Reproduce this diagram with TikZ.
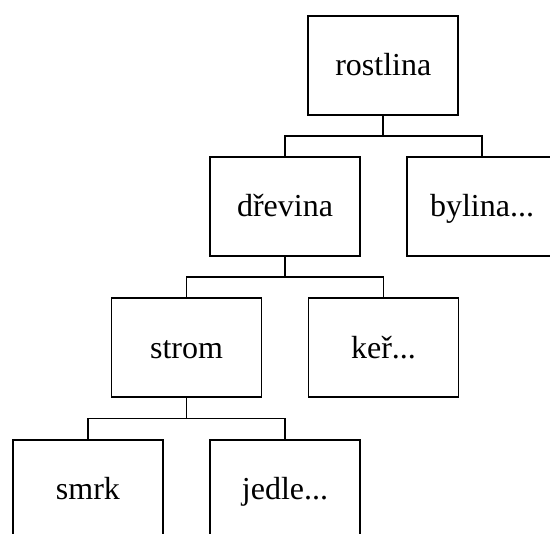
\documentclass[tikz,border=0pt]{standalone}
\usepackage{fontspec}
\setmainfont{Liberation Serif}
\begin{document}
\begin{tikzpicture}[x=1pt,y=1pt,
  box/.style={draw=black, line width=1.8pt, rectangle,
    minimum width=150pt, minimum height=99pt, inner sep=0pt,
    font=\fontsize{32}{38}\selectfont, text height=21pt, text depth=0pt,
    align=center},
  link/.style={draw=black, line width=1.8pt}]
  \useasboundingbox (0,0) rectangle (550,-534);
  % level rows
  \node[box] (rostlina) at (383.3,-65.2)  {rostlina};
  \node[box] (drevina)  at (285,-206.5)   {dřevina};
  \node[box] (bylina)   at (482,-206.5)   {bylina...};
  \node[box] (strom)    at (186.5,-347.8) {strom};
  \node[box] (ker)      at (383.5,-347.8) {keř...};
  \node[box] (smrk)     at (88,-489.2)    {smrk};
  \node[box] (jedle)    at (285,-489.2)   {jedle...};
  % forked connectors
  \foreach \p/\c in {rostlina/drevina, rostlina/bylina,
                     drevina/strom, drevina/ker,
                     strom/smrk, strom/jedle}
    \draw[link] (\p.south) -- ++(0,-20.4) -| (\c.north);
\end{tikzpicture}
\end{document}
